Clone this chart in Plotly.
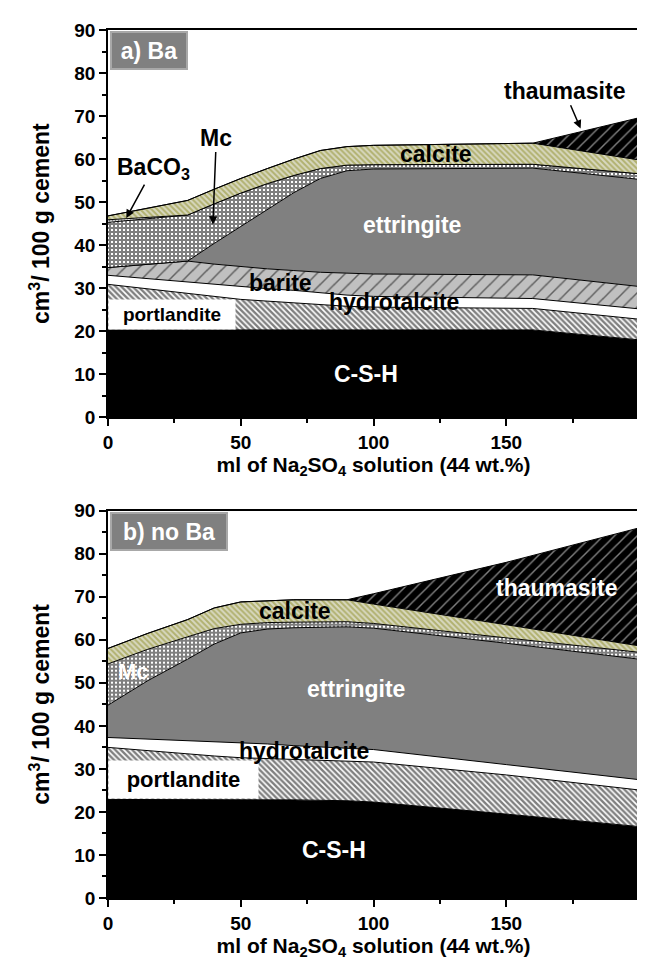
import plotly.graph_objects as go
from plotly.subplots import make_subplots

# ---------------- data (upper boundary of each stacked phase, cm3/100 g cement) ----------------
# panel a) with Ba
xa = [0, 15, 30, 40, 50, 60, 70, 80, 90, 100, 160, 200]
a_csh = [20.3, 20.3, 20.3, 20.3, 20.3, 20.3, 20.3, 20.3, 20.3, 20.3, 20.3, 18.0]
a_portlandite = [30.9, 29.9, 28.9, 28.1, 27.4, 27.0, 26.6, 26.1, 25.8, 25.6, 25.3, 22.8]
a_hydrotalcite = [33.0, 32.2, 31.4, 30.9, 30.4, 29.9, 29.5, 28.9, 28.4, 28.1, 27.6, 25.2]
a_barite = [34.8, 35.6, 36.3, 35.6, 35.0, 34.5, 34.1, 33.7, 33.5, 33.3, 33.1, 30.4]
a_ettringite = [34.8, 35.6, 36.3, 40.4, 44.3, 48.2, 52.2, 55.5, 57.3, 57.7, 57.9, 55.3]
a_mc = [45.3, 46.2, 47.0, 49.6, 52.1, 54.3, 56.2, 57.8, 58.6, 58.7, 58.8, 56.6]
a_baco3 = [45.9, 46.4, 47.0, 49.6, 52.1, 54.3, 56.2, 57.8, 58.6, 58.7, 58.8, 56.6]
a_calcite = [46.8, 48.6, 50.4, 53.0, 55.5, 57.8, 60.0, 62.0, 62.9, 63.2, 63.7, 59.8]
a_thaumasite = [46.8, 48.6, 50.4, 53.0, 55.5, 57.8, 60.0, 62.0, 62.9, 63.2, 63.7, 69.6]

# panel b) no Ba
xb = [0, 15, 30, 40, 50, 60, 70, 90, 100, 150, 200]
b_csh = [22.9, 22.9, 22.9, 22.9, 22.9, 22.9, 22.8, 22.6, 22.3, 19.5, 16.6]
b_portlandite = [35.0, 34.2, 33.5, 33.0, 32.6, 32.4, 32.2, 31.9, 31.6, 28.6, 25.1]
b_hydrotalcite = [37.3, 36.9, 36.6, 36.4, 36.1, 35.8, 35.4, 34.8, 34.5, 31.0, 27.5]
b_ettringite = [44.8, 50.5, 55.5, 59.0, 61.6, 62.5, 62.8, 63.0, 62.7, 59.2, 55.5]
b_mc = [54.4, 57.8, 60.7, 62.6, 63.6, 64.0, 64.1, 64.2, 63.8, 60.5, 57.1]
b_calcite = [58.0, 61.5, 64.7, 67.4, 68.8, 69.1, 69.3, 69.3, 68.3, 63.5, 58.6]
b_thaumasite = [58.0, 61.5, 64.7, 67.4, 68.8, 69.1, 69.3, 69.3, 70.7, 78.0, 86.0]

x_ticks = [0, 50, 100, 150, 200]
y_ticks = [0, 10, 20, 30, 40, 50, 60, 70, 80, 90]

FONT = "Liberation Sans, Arial, sans-serif"

STYLES = {
    "C-S-H": dict(fillcolor="black", fillpattern=None),
    "portlandite": dict(fillcolor="white", fillpattern=dict(shape="\\", fgcolor="black", bgcolor="white", size=4, solidity=0.6)),
    "hydrotalcite": dict(fillcolor="white", fillpattern=None),
    "barite": dict(fillcolor="#c0c0c0", fillpattern=dict(shape="/", fgcolor="black", bgcolor="#c0c0c0", size=10, solidity=0.15)),
    "ettringite": dict(fillcolor="#808080", fillpattern=None),
    "Mc": dict(fillcolor="white", fillpattern=dict(shape="+", fgcolor="black", bgcolor="white", size=4, solidity=0.75)),
    "BaCO3": dict(fillcolor="white", fillpattern=dict(shape=".", fgcolor="black", bgcolor="white", size=3, solidity=0.3)),
    "calcite": dict(fillcolor="#c8c890", fillpattern=dict(shape="\\", fgcolor="#8a8a20", bgcolor="#d8d8c0", size=4, solidity=0.5)),
    "thaumasite": dict(fillcolor="black", fillpattern=dict(shape="/", fgcolor="white", bgcolor="black", size=8, solidity=0.18)),
}

fig = make_subplots(rows=2, cols=1, vertical_spacing=0.1)


def add_layers(x, layers, row):
    first = True
    for name, y in layers:
        st = STYLES[name]
        kw = dict(x=x, y=y, mode="lines", name=name, showlegend=False,
                  line=dict(color="black", width=1),
                  fill="tozeroy" if first else "tonexty",
                  fillcolor=st["fillcolor"], hoverinfo="skip")
        if st["fillpattern"] is not None:
            kw["fillpattern"] = st["fillpattern"]
        fig.add_trace(go.Scatter(**kw), row=row, col=1)
        first = False


add_layers(xa, [("C-S-H", a_csh), ("portlandite", a_portlandite), ("hydrotalcite", a_hydrotalcite),
                ("barite", a_barite), ("ettringite", a_ettringite), ("Mc", a_mc), ("BaCO3", a_baco3),
                ("calcite", a_calcite), ("thaumasite", a_thaumasite)], 1)
add_layers(xb, [("C-S-H", b_csh), ("portlandite", b_portlandite), ("hydrotalcite", b_hydrotalcite),
                ("ettringite", b_ettringite), ("Mc", b_mc), ("calcite", b_calcite),
                ("thaumasite", b_thaumasite)], 2)

axis_common = dict(showline=True, linecolor="black", linewidth=1.5, mirror=True,
                   ticks="outside", ticklen=7, tickwidth=1.5, tickcolor="black",
                   showgrid=False, zeroline=False,
                   tickfont=dict(family=FONT, size=19, color="black", weight="bold"))

xtitle = "ml of Na<sub>2</sub>SO<sub>4</sub> solution (44 wt.%)"
ytitle = "cm<sup>3</sup>/ 100 g cement"

for r in (1, 2):
    fig.update_xaxes(range=[0, 200], tickvals=x_ticks, ticktext=[str(v) for v in x_ticks],
                     minor=dict(dtick=25, ticks="outside", ticklen=4, tickwidth=1.5, tickcolor="black"),
                     title=dict(text=xtitle, font=dict(family=FONT, size=21, color="black", weight="bold"), standoff=0),
                     row=r, col=1, **axis_common)
    fig.update_yaxes(range=[0, 90], tickvals=y_ticks, ticktext=[str(v) for v in y_ticks],
                     minor=dict(dtick=5, ticks="outside", ticklen=4, tickwidth=1.5, tickcolor="black"),
                     title=dict(text=ytitle, font=dict(family=FONT, size=23, color="black", weight="bold"), standoff=18),
                     row=r, col=1, **axis_common)

fig.update_layout(
    width=645, height=959,
    margin=dict(l=100, r=14, t=16, b=69),
    paper_bgcolor="white", plot_bgcolor="white",
    xaxis=dict(domain=[0, 1]), yaxis=dict(domain=[0.5538, 1.0]),
    xaxis2=dict(domain=[0, 1]), yaxis2=dict(domain=[0.0, 0.4462]),
    showlegend=False,
)


def label(text, x, y, row, color="black", size=23, **kw):
    xr = "x" if row == 1 else "x2"
    yr = "y" if row == 1 else "y2"
    fig.add_annotation(text=text, x=x, y=y, xref=xr, yref=yr, showarrow=False,
                       font=dict(family=FONT, size=size, color=color, weight="bold"), **kw)


def arrow_label(text, tip_x, tip_y, tx, ty, row, size=23):
    xr = "x" if row == 1 else "x2"
    yr = "y" if row == 1 else "y2"
    fig.add_annotation(text=text, x=tip_x, y=tip_y, xref=xr, yref=yr,
                       ax=tx, ay=ty, axref=xr, ayref=yr, showarrow=True,
                       arrowhead=2, arrowsize=1.1, arrowwidth=1.5, arrowcolor="black",
                       font=dict(family=FONT, size=size, color="black", weight="bold"))


# panel tags
for row, txt, w in ((1, "a) Ba", 74), (2, "b) no Ba", 114)):
    xr = "x domain" if row == 1 else "x2 domain"
    yr = "y domain" if row == 1 else "y2 domain"
    fig.add_annotation(text=txt, x=0.003, y=0.997, xref=xr, yref=yr, xanchor="left", yanchor="top",
                       showarrow=False, bgcolor="#808080", bordercolor="#a8a8a8", borderwidth=2,
                       borderpad=0, width=w, height=35,
                       font=dict(family=FONT, size=23, color="white", weight="bold"))

# panel a labels
label("C-S-H", 97.3, 10.0, 1, color="white")
label("portlandite", 24.1, 23.9, 1, size=19, bgcolor="white", width=126, height=29, borderpad=0)
label("hydrotalcite", 107.6, 26.7, 1)
label("barite", 65.0, 31.3, 1)
label("ettringite", 114.5, 44.7, 1, color="white")
label("calcite", 123.5, 61.3, 1)
arrow_label("thaumasite", 178.0, 67.1, 171.9, 75.9, 1)
arrow_label("Mc", 39.5, 44.8, 40.8, 65.0, 1)
arrow_label("BaCO<sub>3</sub>", 6.9, 46.3, 17.0, 57.8, 1)

# panel b labels
label("C-S-H", 85.1, 11.2, 2, color="white")
label("portlandite", 28.5, 27.45, 2, size=22, bgcolor="white", width=149, height=37, borderpad=0)
label("hydrotalcite", 74.0, 34.1, 2)
label("ettringite", 93.5, 48.5, 2, color="white")
label("Mc", 9.5, 52.6, 2, color="white", size=22)
label("calcite", 70.3, 66.7, 2)
label("thaumasite", 168.9, 72.1, 2, color="white")

fig.write_html("out.html")
